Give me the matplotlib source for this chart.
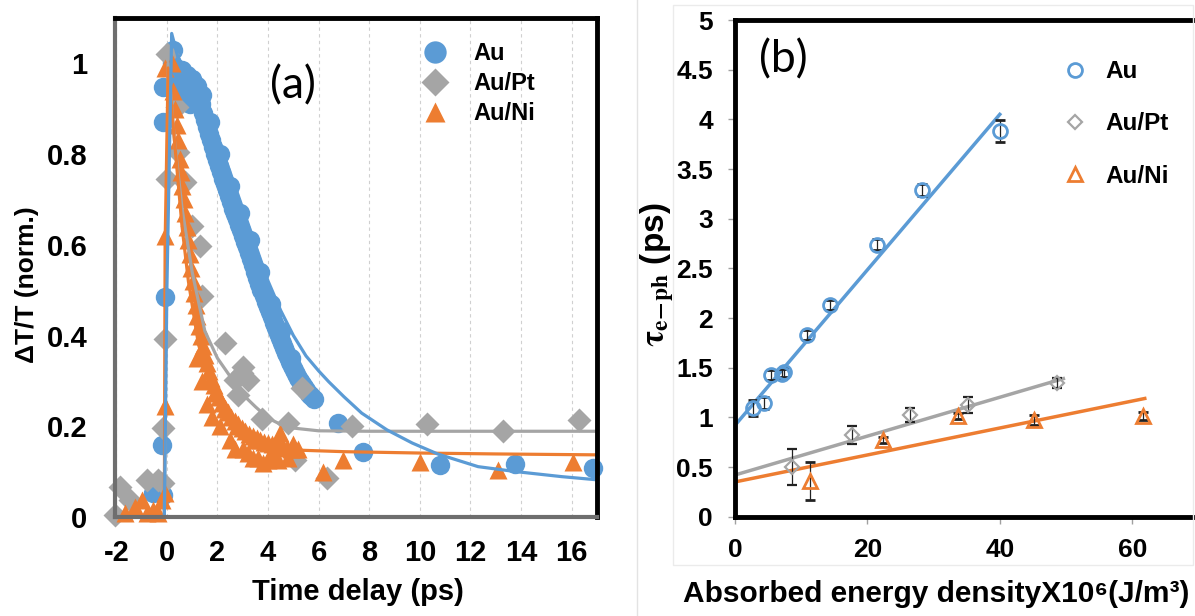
import matplotlib
matplotlib.use("Agg")
import matplotlib.pyplot as plt
from matplotlib.lines import Line2D
from matplotlib.patches import Rectangle

plt.rcParams['font.family'] = ['Liberation Sans', 'DejaVu Sans']
plt.rcParams['font.weight'] = 'bold'
plt.rcParams['mathtext.fontset'] = 'stix'
plt.rcParams['axes.unicode_minus'] = False

BLUE = '#5B9BD5'
GREY = '#A5A5A5'
ORANGE = '#ED7D31'

# ---- panel (a): normalised transient transmission ----
au_t = [-0.53, -0.14, -0.2, -0.07, -0.14, -0.14, 0.2,
        0.25, 0.35, 0.45, 0.55, 0.65, 0.75, 0.85, 0.95, 1.05, 1.15, 1.25, 1.35,
        1.42, 1.5, 1.58, 1.66, 1.74, 1.82, 1.9, 1.98, 2.06, 2.14, 2.22, 2.3,
        2.38, 2.46, 2.54, 2.62, 2.7, 2.78, 2.86, 2.94, 3.02, 3.1, 3.18, 3.26,
        3.34, 3.42, 3.5, 3.58, 3.66, 3.74, 3.82, 3.9, 3.98, 4.06, 4.14, 4.22,
        4.3, 4.38, 4.46, 4.54, 4.62, 4.7, 4.78, 4.86, 4.94, 5.02, 5.1, 5.18,
        5.26, 5.34, 5.42, 5.5, 5.6, 5.7, 5.8,
        0.6, 0.8, 1.0, 1.2, 1.4, 0.5, 0.7, 0.9,
        1.7, 2.1, 2.5, 2.9, 3.3, 3.7, 4.1, 4.5, 4.9,
        6.75, 7.77, 10.8, 13.76, 16.86]
au_s = [0.053, 0.049, 0.159, 0.484, 0.871, 0.948, 1.0,
        1.03, 0.99, 0.97, 0.96, 0.955, 0.95, 0.945, 0.94, 0.935, 0.93, 0.92, 0.91,
        0.89, 0.875, 0.86, 0.845, 0.83, 0.815, 0.80, 0.787, 0.773, 0.76, 0.746, 0.733,
        0.72, 0.707, 0.694, 0.68, 0.668, 0.656, 0.644, 0.632, 0.62, 0.607, 0.595, 0.582,
        0.568, 0.555, 0.541, 0.527, 0.513, 0.5, 0.488, 0.475, 0.463, 0.452, 0.44, 0.428,
        0.417, 0.405, 0.394, 0.383, 0.372, 0.362, 0.352, 0.342, 0.333, 0.324, 0.315, 0.307,
        0.3, 0.293, 0.286, 0.279, 0.272, 0.266, 0.26,
        0.985, 0.975, 0.965, 0.95, 0.93, 0.93, 0.92, 0.91,
        0.87, 0.80, 0.73, 0.67, 0.61, 0.54, 0.47, 0.41, 0.35,
        0.207, 0.144, 0.115, 0.117, 0.108]

pt_t = [-2.05, -1.85, -1.45, -0.8, -0.34, -0.14, -0.14, -0.07, 0.0, 0.0,
        0.39, 0.45, 0.72, 0.98, 1.31, 1.38, 2.3, 2.7, 2.8, 2.96, 3.0, 3.22,
        3.75, 4.8, 5.07, 5.33, 6.32, 7.3, 10.3, 13.3, 16.3]
pt_s = [0.004, 0.067, 0.038, 0.082, 0.082, 0.075, 0.196, 0.392, 0.746, 1.02,
        0.904, 0.805, 0.738, 0.642, 0.598, 0.487, 0.384, 0.303, 0.27, 0.318, 0.33, 0.303,
        0.215, 0.207, 0.126, 0.285, 0.086, 0.2, 0.206, 0.189, 0.213]

ni_t = [-1.65, -1.26, -1.0, -0.8, -0.53, -0.34, -0.2, -0.07,
        -0.07, -0.07, -0.07, 0.2,
        0.26, 0.33, 0.39, 0.45, 0.5, 0.55, 0.6, 0.66, 0.72, 0.78, 0.84, 0.9,
        0.96, 1.02, 1.08, 1.14, 1.2, 1.27, 1.34, 1.42, 1.5, 1.58, 1.67, 1.76,
        1.86, 1.96, 2.07, 2.18, 2.3, 2.42, 2.55, 2.68, 2.82, 2.96, 3.1, 3.25,
        3.4, 3.55, 3.7, 3.85, 4.0, 4.15, 4.3, 4.45, 4.6, 4.75, 4.9, 5.05, 5.2,
        1.31, 1.9, 2.3, 2.83, 3.49, 4.0, 4.47, 3.0, 3.6, 4.2,
        1.2, 1.4, 1.6, 1.8, 2.1, 2.5, 2.7, 3.2, 3.4, 3.8, 4.1, 4.4, 4.8, 5.0,
        6.19, 6.98, 10.0, 13.1, 16.07]
ni_s = [0.008, 0.023, 0.038, 0.008, 0.015, 0.008, 0.038, 0.053,
        0.244, 0.62, 0.989, 1.0,
        0.94, 0.9, 0.865, 0.83, 0.79, 0.76, 0.73, 0.70, 0.67, 0.64, 0.61, 0.58,
        0.55, 0.52, 0.493, 0.467, 0.443, 0.42, 0.398, 0.377, 0.357, 0.339, 0.322, 0.306,
        0.291, 0.277, 0.264, 0.252, 0.241, 0.231, 0.221, 0.212, 0.204, 0.197, 0.19, 0.184,
        0.179, 0.174, 0.17, 0.166, 0.163, 0.16, 0.158, 0.156, 0.154, 0.152, 0.151, 0.15, 0.149,
        0.362, 0.274, 0.237, 0.2, 0.17, 0.126, 0.185, 0.15, 0.13, 0.13,
        0.35, 0.3, 0.25, 0.22, 0.2, 0.17, 0.15, 0.14, 0.13, 0.12, 0.14, 0.125, 0.13, 0.16,
        0.10, 0.126, 0.122, 0.104, 0.122]

# fitted curves
au_fit_t = [-0.1, 0.0, 0.19, 0.5, 1.0, 1.5, 2.0, 2.5, 3.0, 3.5, 4.0, 4.5, 5.0, 5.5,
            6.0, 6.4, 7.0, 7.7, 8.7, 9.7, 10.7, 12.3, 13.8, 15.6, 17.0]
au_fit_s = [0.0, 0.5, 1.066, 1.0, 0.96, 0.915, 0.84, 0.76, 0.68, 0.6, 0.52, 0.455,
            0.4, 0.355, 0.322, 0.298, 0.265, 0.229, 0.192, 0.163, 0.139, 0.111,
            0.1, 0.089, 0.082]
pt_fit_t = [-0.1, 0.05, 0.3, 0.6, 1.0, 1.5, 2.0, 2.5, 3.0, 3.5, 4.0, 4.5, 5.0,
            6.0, 8.0, 17.0]
pt_fit_s = [0.0, 1.0, 0.83, 0.68, 0.54, 0.41, 0.35, 0.31, 0.27, 0.243, 0.218,
            0.204, 0.196, 0.19, 0.189, 0.189]
ni_fit_t = [-0.1, -0.07, 0.05, 0.3, 0.6, 0.85, 1.25, 1.6, 1.9, 2.4, 2.8, 3.3,
            3.8, 4.5, 5.4, 7.0, 10.0, 13.0, 17.0]
ni_fit_s = [0.0, 0.6, 0.99, 0.83, 0.64, 0.52, 0.38, 0.32, 0.28, 0.23, 0.2, 0.178,
            0.163, 0.153, 0.147, 0.144, 0.141, 0.139, 0.137]

# ---- panel (b): tau_e-ph vs absorbed energy density ----
au_e = [2.77, 4.38, 5.39, 7.05, 7.4, 10.83, 14.35, 21.4, 28.2, 40.0]
au_tau = [1.09, 1.14, 1.43, 1.44, 1.46, 1.83, 2.13, 2.74, 3.29, 3.88]
au_err = [0.08, 0.06, 0.05, 0.05, 0.05, 0.05, 0.05, 0.06, 0.06, 0.11]
pt_e = [8.56, 17.6, 26.4, 35.2, 48.6]
pt_tau = [0.5, 0.82, 1.02, 1.125, 1.35]
pt_err = [0.18, 0.09, 0.07, 0.08, 0.05]
ni_e = [11.33, 22.4, 33.7, 45.1, 61.7]
ni_tau = [0.36, 0.77, 1.01, 0.97, 1.01]
ni_err = [0.19, 0.03, 0.03, 0.05, 0.04]

au_line_e, au_line_tau = [0, 40], [0.92, 4.05]
pt_line_e, pt_line_tau = [0, 49.6], [0.42, 1.39]
ni_line_e, ni_line_tau = [0, 61.9], [0.35, 1.19]

W, H = 1195, 616
fig = plt.figure(figsize=(W / 100, H / 100), dpi=100)


def box(x0, y0, x1, y1):
    # pixel box (top-left origin) -> figure fraction rect
    return [x0 / W, 1 - y1 / H, (x1 - x0) / W, (y1 - y0) / H]


# ---------------- panel (a) ----------------
ax1 = fig.add_axes(box(115, 18, 597, 517))
ax1.plot(au_t, au_s, 'o', color=BLUE, ms=14, mec='none', clip_on=False, label='Au')
ax1.plot(pt_t, pt_s, 'D', color=GREY, ms=12, mec='none', clip_on=False, label='Au/Pt')
ax1.plot(ni_t, ni_s, '^', color=ORANGE, ms=13, mec='none', clip_on=False, label='Au/Ni')
ax1.plot(pt_fit_t, pt_fit_s, '-', color=GREY, lw=2.3)
ax1.plot(ni_fit_t, ni_fit_s, '-', color=ORANGE, lw=2.3)
ax1.plot(au_fit_t, au_fit_s, '-', color=BLUE, lw=2.3)

ax1.set_xlim(-2.05, 17)
ax1.set_ylim(0, 1.1)
ax1.set_xticks(range(-2, 17, 2))
ax1.set_yticks([0, 0.2, 0.4, 0.6, 0.8, 1.0])
ax1.set_yticklabels(['0', '0.2', '0.4', '0.6', '0.8', '1'])
ax1.tick_params(length=0, labelsize=21, pad=16)
ax1.tick_params(axis='y', pad=20)
ax1.grid(axis='x', color='#D0D0D0', lw=0.8, ls=(0, (3, 3)))
for s in ['left', 'bottom']:
    ax1.spines[s].set_color('#6E6E6E')
    ax1.spines[s].set_linewidth(3)
for s in ['top', 'right']:
    ax1.spines[s].set_color('black')
    ax1.spines[s].set_linewidth(3.5)

ax1.legend(loc='upper left', bbox_to_anchor=(0.64, 0.952), frameon=False,
           fontsize=17, handlelength=1.0, handletextpad=1.1, labelspacing=0.3,
           borderpad=0, borderaxespad=0, markerscale=1.15)
ax1.text(0.37, 0.865, '(a)', transform=ax1.transAxes, fontsize=32,
         family='Lato', fontweight='normal', ha='center', va='center')

fig.text(358 / W, 1 - 592 / H, 'Time delay (ps)', fontsize=21,
         ha='center', va='center')
fig.text(27 / W, 1 - 285 / H, 'ΔT/T (norm.)', fontsize=19, rotation=90,
         ha='center', va='center')

# ---------------- panel (b) ----------------
ax2 = fig.add_axes(box(735, 20, 1198.4, 516.7))
ax2.plot(au_line_e, au_line_tau, '-', color=BLUE, lw=2.5)
ax2.plot(pt_line_e, pt_line_tau, '-', color=GREY, lw=2.5)
ax2.plot(ni_line_e, ni_line_tau, '-', color=ORANGE, lw=2.5)
ax2.errorbar(au_e, au_tau, yerr=au_err, fmt='o', ms=10, mfc='none', mec=BLUE,
             mew=2, ecolor='#222222', elinewidth=0.9, capsize=3.5, label='Au')
ax2.errorbar(pt_e, pt_tau, yerr=pt_err, fmt='D', ms=7, mfc='none', mec=GREY,
             mew=1.6, ecolor='#222222', elinewidth=0.9, capsize=3.5, label='Au/Pt')
ax2.errorbar(ni_e, ni_tau, yerr=ni_err, fmt='^', ms=10, mfc='none', mec=ORANGE,
             mew=2, ecolor='#222222', elinewidth=0.9, capsize=3.5, label='Au/Ni')

ax2.set_xlim(0, 70)
ax2.set_ylim(0, 5)
ax2.set_xticks([0, 20, 40, 60])
ax2.set_yticks([0, 0.5, 1, 1.5, 2, 2.5, 3, 3.5, 4, 4.5, 5])
ax2.set_yticklabels(['0', '0.5', '1', '1.5', '2', '2.5', '3', '3.5', '4', '4.5', '5'])
ax2.tick_params(length=5, width=1, color='#A0A0A0', labelsize=19)
ax2.tick_params(axis='x', pad=10)
ax2.tick_params(axis='y', pad=11)
for s in ['left', 'bottom', 'top']:
    ax2.spines[s].set_color('black')
    ax2.spines[s].set_linewidth(3.5)
ax2.spines['right'].set_visible(False)

handles, labels = ax2.get_legend_handles_labels()
handles = [h[0] for h in handles]
ax2.legend(handles, labels, loc='upper left', bbox_to_anchor=(0.708, 0.919),
           frameon=False, fontsize=17.5, handlelength=1.0, handletextpad=0.75,
           labelspacing=1.2, borderpad=0, borderaxespad=0)
ax2.text(0.105, 0.92, '(b)', transform=ax2.transAxes, fontsize=32,
         family='Lato', fontweight='normal', ha='center', va='center')

fig.text(936 / W, 1 - 594 / H, 'Absorbed energy densityX10⁶(J/m³)', fontsize=21.5,
         ha='center', va='center')
fig.text(657 / W, 1 - 275 / H, r'$\mathbf{\tau_{e\!-\!ph}}$ (ps)', fontsize=24,
         rotation=90, ha='center', va='center')

# chart borders of the composite picture
fig.add_artist(Line2D([637 / W, 637 / W], [0, 1], color='#E3E3E3', lw=1))
fig.add_artist(Rectangle((673 / W, 1 - 565 / H), (1193 - 673) / W, (565 - 5) / H,
                         fill=False, edgecolor='#EBEBEB', lw=1))

fig.savefig('out.png', dpi=100)
